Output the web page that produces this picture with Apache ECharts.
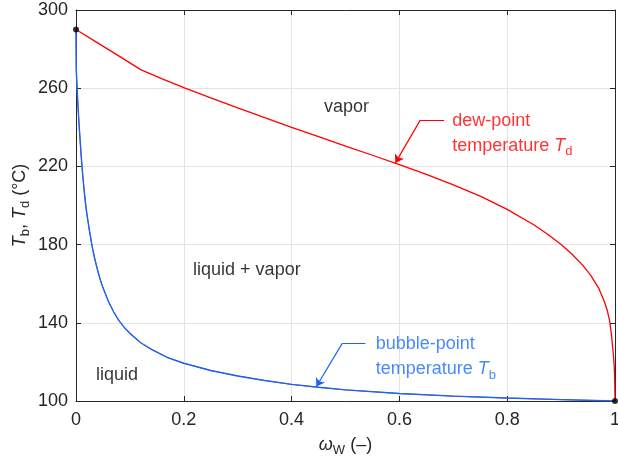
<!DOCTYPE html>
<html><head><meta charset="utf-8">
<script src="https://cdn.jsdelivr.net/npm/echarts@6/dist/echarts.min.js"></script>
<style>html,body{margin:0;padding:0;background:#fff;overflow:hidden}#c{width:618px;height:460px}</style>
</head><body><div id="c"></div>
<script>
// dew-point temperature T_d vs water mass fraction
var dewW = [0, 0.04, 0.08, 0.12, 0.16, 0.2, 0.25, 0.3, 0.35, 0.4, 0.45, 0.5, 0.55, 0.6, 0.65, 0.7, 0.75, 0.8, 0.85, 0.875, 0.9, 0.92, 0.94, 0.955, 0.97, 0.98, 0.986, 0.99, 0.993, 0.995, 0.997, 0.998, 0.999, 0.9995, 1];
var dewT = [290, 283.2, 276.4, 269.5, 264.8, 260.3, 255, 249.9, 244.9, 240, 235.2, 230.4, 225.7, 220.9, 215.9, 210.6, 204.8, 198, 190, 185.3, 180, 175.2, 169.5, 164.3, 157.6, 151, 146, 141, 135, 129.5, 123.5, 120, 115, 110, 100];
// bubble-point temperature T_b
var bubW = [0, 0.0005, 0.001, 0.002, 0.003, 0.0045, 0.006, 0.008, 0.01, 0.0125, 0.015, 0.0175, 0.02, 0.025, 0.03, 0.035, 0.04, 0.045, 0.05, 0.06, 0.07, 0.08, 0.09, 0.1, 0.12, 0.14, 0.17, 0.2, 0.25, 0.3, 0.35, 0.4, 0.45, 0.5, 0.6, 0.7, 0.8, 0.9, 1];
var bubT = [290, 270, 266, 260, 254.5, 247, 240, 232, 224, 215.5, 208, 201.5, 196, 187, 179, 172.5, 167, 162, 158, 151, 145.5, 141, 137.5, 134.6, 129.8, 126.4, 122.2, 119.3, 115.6, 112.8, 110.5, 108.5, 107, 105.7, 103.8, 102.5, 101.5, 100.7, 100];
var endPoints = [[0, 290], [1, 100]];
var xTicks = [0, 0.2, 0.4, 0.6, 0.8, 1];
var yTicks = [100, 140, 180, 220, 260, 300];
// annotation anchors (data coordinates)
var regionLabels = [
  {name: 'vapor', pos: [0.502, 250.5]},
  {name: 'liquid + vapor', pos: [0.317, 166.9]},
  {name: 'liquid', pos: [0.076, 113.1]}
];
var dewArrow = [[0.683, 243.8], [0.639, 243.8], [0.5926, 221.8]];
var bubArrow = [[0.537, 129.5], [0.494, 129.5], [0.446, 107.4]];
var dewText = [0.698, 243.3];
var bubText = [0.556, 129.0];

function zip(a, b) { return a.map(function (v, i) { return [v, b[i]]; }); }

var FONT = 'Liberation Sans, Arial, sans-serif';
var AX = '#262626';
var RED = '#ff0000';
var BLUE = '#1c64f0';
var BLUE_T = '#1a6cff';

function richSet(color) {
  return {
    n: {fontSize: 18, color: color, fontFamily: FONT, lineHeight: 25},
    i: {fontSize: 18, color: color, fontFamily: FONT, fontStyle: 'italic', lineHeight: 25},
    s: {fontSize: 13, color: color, fontFamily: FONT, lineHeight: 11, verticalAlign: 'bottom'}
  };
}
function nameRich() {
  return {
    i: {fontSize: 18, color: AX, fontFamily: FONT, fontStyle: 'italic', lineHeight: 24},
    n: {fontSize: 18, color: AX, fontFamily: FONT, lineHeight: 24},
    s: {fontSize: 13, color: AX, fontFamily: FONT, lineHeight: 10, verticalAlign: 'bottom'}
  };
}

var chart = echarts.init(document.getElementById('c'), null, {renderer: 'canvas'});
var option = {
  animation: false,
  backgroundColor: '#fff',
  grid: {left: 76, right: 3, top: 10, bottom: 59, containLabel: false, outerBoundsMode: 'none'},
  xAxis: [{
    type: 'value', min: xTicks[0], max: xTicks[xTicks.length - 1], interval: 0.2,
    position: 'bottom',
    axisLine: {show: true, onZero: false, lineStyle: {color: AX, width: 1}},
    axisTick: {show: true, inside: true, length: 5, lineStyle: {color: AX}},
    axisLabel: {color: AX, fontSize: 18, fontFamily: FONT, margin: 10,
      formatter: function (v) { return String(+v.toFixed(1)); }},
    splitLine: {show: true, lineStyle: {color: '#e3e3e3', width: 1}},
    name: '{i|ω}{s|W}{n| (–)}', nameLocation: 'middle', nameGap: 32, nameMoveOverlap: false,
    nameTextStyle: {rich: nameRich()}
  }, {
    type: 'value', min: xTicks[0], max: xTicks[xTicks.length - 1], interval: 0.2,
    position: 'top',
    axisLine: {show: true, onZero: false, lineStyle: {color: AX, width: 1}},
    axisTick: {show: true, inside: true, length: 5, lineStyle: {color: AX}},
    axisLabel: {show: false}, splitLine: {show: false}
  }],
  yAxis: [{
    type: 'value', min: yTicks[0], max: yTicks[yTicks.length - 1], interval: 40,
    position: 'left',
    axisLine: {show: true, onZero: false, lineStyle: {color: AX, width: 1}},
    axisTick: {show: true, inside: true, length: 5, lineStyle: {color: AX}},
    axisLabel: {color: AX, fontSize: 18, fontFamily: FONT, margin: 8},
    splitLine: {show: true, lineStyle: {color: '#e3e3e3', width: 1}},
    name: '{i|T}{s|b}{n|, }{i|T}{s|d}{n| (°C)}', nameLocation: 'middle', nameGap: 44, nameRotate: 90,
    nameMoveOverlap: false,
    nameTextStyle: {rich: nameRich()}
  }, {
    type: 'value', min: yTicks[0], max: yTicks[yTicks.length - 1], interval: 40,
    position: 'right',
    axisLine: {show: true, onZero: false, lineStyle: {color: AX, width: 1}},
    axisTick: {show: true, inside: true, length: 5, lineStyle: {color: AX}},
    axisLabel: {show: false}, splitLine: {show: false}
  }],
  series: [
    {type: 'line', name: 'bubble-shadow', data: zip(bubW, bubT), showSymbol: false, symbol: 'none',
      lineStyle: {color: '#a04890', width: 1.0}, z: 3, silent: true},
    {type: 'line', name: 'dew', data: zip(dewW, dewT), showSymbol: false, symbol: 'none',
      lineStyle: {color: RED, width: 1.3}, z: 4, silent: true},
    {type: 'line', name: 'bubble', data: zip(bubW, bubT), showSymbol: false, symbol: 'none',
      lineStyle: {color: BLUE, width: 1.4}, z: 5, silent: true},
    {type: 'scatter', data: endPoints, symbolSize: 6, itemStyle: {color: '#000'}, z: 10, silent: true},
    {type: 'lines', coordinateSystem: 'cartesian2d', z: 6, silent: true,
      data: [
        {coords: [dewArrow[0], dewArrow[1]], symbol: ['none', 'none'], lineStyle: {color: RED}},
        {coords: [dewArrow[1], dewArrow[2]], lineStyle: {color: RED}},
        {coords: [bubArrow[0], bubArrow[1]], symbol: ['none', 'none'], lineStyle: {color: BLUE}},
        {coords: [bubArrow[1], bubArrow[2]], lineStyle: {color: BLUE}}
      ],
      symbol: ['none', 'arrow'], symbolSize: 8,
      lineStyle: {width: 1.2, opacity: 1, curveness: 0}
    },
    {type: 'scatter', symbolSize: 0, z: 8, silent: true,
      data: regionLabels.map(function (d) { return {value: d.pos, name: d.name}; }),
      label: {show: true, position: 'inside', formatter: '{b}', color: '#000', fontSize: 18, fontFamily: FONT}
    },
    {type: 'scatter', symbolSize: 0, z: 8, silent: true,
      data: [
        {value: dewText, label: {formatter: '{n|dew-point}\n{n|temperature }{i|T}{s|d}', rich: richSet(RED)}},
        {value: bubText, label: {formatter: '{n|bubble-point}\n{n|temperature }{i|T}{s|b}', rich: richSet(BLUE_T)}}
      ],
      label: {show: true, position: 'right', distance: 0, align: 'left', verticalAlign: 'top', offset: [0, -12.5]}
    }
  ]
};
chart.setOption(option);
</script>
</body></html>
